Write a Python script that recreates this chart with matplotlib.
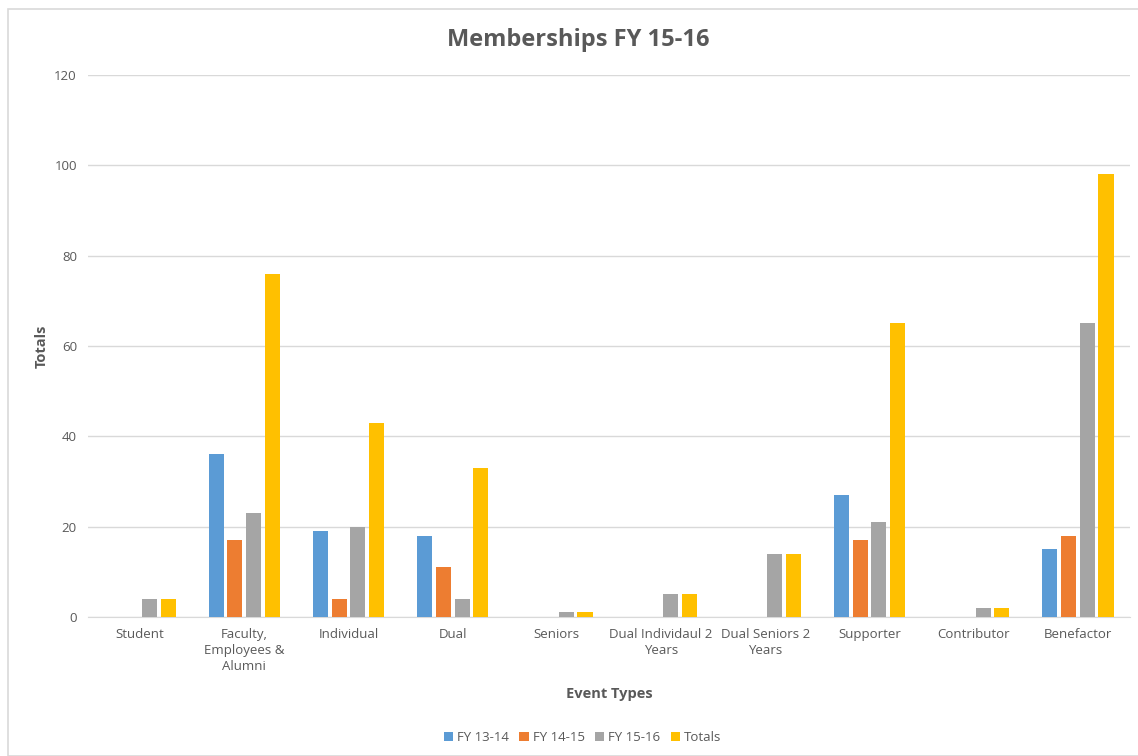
import numpy as np
import matplotlib.pyplot as plt
from matplotlib.patches import Rectangle

# Membership data
categories = ['Student', 'Faculty,\nEmployees &\nAlumni', 'Individual', 'Dual', 'Seniors',
              'Dual Individaul 2\nYears', 'Dual Seniors 2\nYears', 'Supporter',
              'Contributor', 'Benefactor']
fy_13_14 = [0, 36, 19, 18, 0, 0, 0, 27, 0, 15]
fy_14_15 = [0, 17, 4, 11, 0, 0, 0, 17, 0, 18]
fy_15_16 = [4, 23, 20, 4, 1, 5, 14, 21, 2, 65]
totals = [4, 76, 43, 33, 1, 5, 14, 65, 2, 98]

series = [('FY 13-14', fy_13_14, '#5B9BD5'),
          ('FY 14-15', fy_14_15, '#ED7D31'),
          ('FY 15-16', fy_15_16, '#A5A5A5'),
          ('Totals', totals, '#FFC000')]

plt.rcParams['font.family'] = ['Open Sans', 'DejaVu Sans']
text_color = '#595959'

fig = plt.figure(figsize=(11.38, 7.56), dpi=100)
ax = fig.add_axes([88 / 1138, 0.184, 1042 / 1138, 0.717])

# chart border
fig.patches.append(Rectangle((8 / 1138, 0), 1.0, 1 - 9 / 756, transform=fig.transFigure,
                             fill=False, edgecolor='#D9D9D9', linewidth=1.2))

x = np.arange(len(categories))
width = 0.145
step = 0.18
for i, (name, vals, color) in enumerate(series):
    ax.bar(x + (i - 1.5) * step, vals, width, color=color, label=name, zorder=3)

ax.set_xlim(-0.5, len(categories) - 0.5)
ax.set_ylim(0, 120)
ax.set_yticks(range(0, 121, 20))
ax.grid(axis='y', color='#D9D9D9', linewidth=1, zorder=0)
for s in ['top', 'right', 'left']:
    ax.spines[s].set_visible(False)
ax.spines['bottom'].set_color('#D9D9D9')
ax.tick_params(axis='both', length=0, colors=text_color, labelsize=9.5)
ax.tick_params(axis='y', pad=8)
ax.tick_params(axis='x', pad=8)
ax.set_xticks(x)
ax.set_xticklabels(categories, linespacing=1.3)

# title is centred on the whole chart, not the plot area
fig.text(0.508, 0.947, 'Memberships FY 15-16', ha='center', va='center',
         fontsize=17, fontweight='bold', color=text_color)
ax.set_xlabel('Event Types', fontsize=10.5, fontweight='bold', color=text_color, labelpad=10)
ax.set_ylabel('Totals', fontsize=10.5, fontweight='bold', color=text_color, labelpad=4)

leg = fig.legend(loc='lower center', bbox_to_anchor=(0.512, 0.0), ncol=4, frameon=False,
                 fontsize=9.5, handlelength=0.7, handleheight=0.7, handletextpad=0.3,
                 columnspacing=0.8)
for t in leg.get_texts():
    t.set_color(text_color)

plt.savefig('out.png', dpi=100)
